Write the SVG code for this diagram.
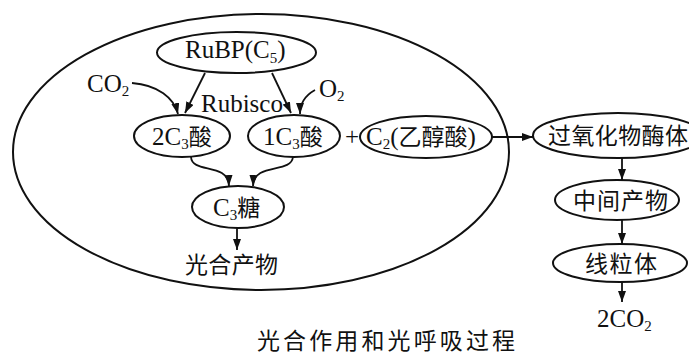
<svg xmlns="http://www.w3.org/2000/svg" width="689" height="356" viewBox="0 0 689 356">
<style>
.n{fill:none;stroke:#111;stroke-width:2}
.c{fill:none;stroke:#111;stroke-width:1.8}
text{font-family:"Liberation Serif","Noto Sans CJK SC",serif;font-size:25px;fill:#111}
.cj{font-family:"Noto Sans CJK SC","Liberation Serif",sans-serif;font-size:23px}
.s{font-size:15px}
</style>
<defs>
<marker id="ah" markerUnits="userSpaceOnUse" markerWidth="11" markerHeight="8" refX="11" refY="4" orient="auto">
<path d="M0,0 L11,4 L0,8 z" fill="#111"/>
</marker>
</defs>
<rect width="689" height="356" fill="#fff"/>
<g id="chloroplast">
<ellipse class="n" cx="261" cy="152" rx="248" ry="138"/>
</g>
<g id="rubp">
<ellipse class="n" cx="236.5" cy="52.5" rx="79.5" ry="20.5"/>
<text x="185" y="58">RuBP(C<tspan class="s" dy="5">5</tspan><tspan dy="-5">)</tspan></text>
</g>
<g id="rubisco"><text x="201" y="112">Rubisco</text></g>
<g id="co2"><text x="87" y="92">CO<tspan class="s" dy="4">2</tspan></text></g>
<g id="o2"><text x="319" y="97" font-size="23">O<tspan class="s" dy="4">2</tspan></text></g>
<g id="c3acid2">
<ellipse class="n" cx="182" cy="136" rx="48" ry="21"/>
<text x="152" y="145">2C<tspan class="s" dy="4">3</tspan><tspan dy="-4" class="cj" font-size="24">酸</tspan></text>
</g>
<g id="c3acid1">
<ellipse class="n" cx="294" cy="136" rx="46" ry="21"/>
<text x="263" y="145">1C<tspan class="s" dy="4">3</tspan><tspan dy="-4" class="cj" font-size="24">酸</tspan></text>
</g>
<g id="plus"><text x="352" y="145" text-anchor="middle">+</text></g>
<g id="c2">
<ellipse class="n" cx="426" cy="137" rx="66" ry="21"/>
<text x="366" y="145">C<tspan class="s" dy="4">2</tspan><tspan dy="-4">(</tspan><tspan class="cj" font-size="25">乙醇酸</tspan><tspan>)</tspan></text>
</g>
<g id="peroxisome">
<ellipse class="n" cx="618" cy="135.5" rx="85" ry="22.5"/>
<text class="cj" x="548" y="144" font-size="24" textLength="140" lengthAdjust="spacing">过氧化物酶体</text>
</g>
<g id="intermediate">
<ellipse class="n" cx="617" cy="200" rx="62" ry="20"/>
<text class="cj" x="573" y="209" font-size="24" textLength="95" lengthAdjust="spacing">中间产物</text>
</g>
<g id="mitochondria">
<ellipse class="n" cx="620" cy="263" rx="67" ry="19"/>
<text class="cj" x="585" y="272" font-size="24" textLength="72" lengthAdjust="spacing">线粒体</text>
</g>
<g id="co2out"><text x="597" y="327">2CO<tspan class="s" dy="4">2</tspan></text></g>
<g id="c3sugar">
<ellipse class="n" cx="238" cy="207" rx="46" ry="21"/>
<text x="213" y="216">C<tspan class="s" dy="4">3</tspan><tspan dy="-4" class="cj" font-size="24">糖</tspan></text>
</g>
<g id="product"><text class="cj" x="185" y="273" textLength="93" lengthAdjust="spacing">光合产物</text></g>
<g id="title"><text class="cj" x="257" y="349" font-size="23" textLength="258" lengthAdjust="spacing">光合作用和光呼吸过程</text></g>
<g id="connectors">
<path class="c" d="M205,73 L185,113" marker-end="url(#ah)"/>
<path class="c" d="M272,73 L291,113" marker-end="url(#ah)"/>
<path class="c" d="M132,83 C158,85 174,98 178,114" marker-end="url(#ah)"/>
<path class="c" d="M315,90 C306,95 300,103 300,114" marker-end="url(#ah)"/>
<path class="c" d="M191,157 C192,174 228,162 229,186" marker-end="url(#ah)"/>
<path class="c" d="M293,157 C291,174 254,162 253,186" marker-end="url(#ah)"/>
<path class="c" d="M237,228 L237,250" marker-end="url(#ah)"/>
<path class="c" d="M492,137 L533,137" marker-end="url(#ah)"/>
<path class="c" d="M622,158 L622,180" marker-end="url(#ah)"/>
<path class="c" d="M622,220 L622,244" marker-end="url(#ah)"/>
<path class="c" d="M622,282 L622,302" marker-end="url(#ah)"/>
</g>
</svg>
